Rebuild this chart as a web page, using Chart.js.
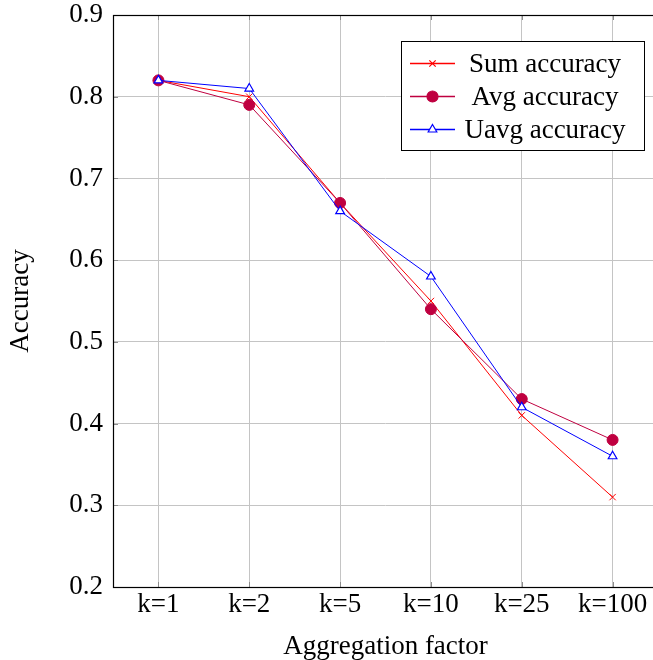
<!DOCTYPE html>
<html>
<head>
<meta charset="utf-8">
<script src="https://cdn.jsdelivr.net/npm/chart.js@4/dist/chart.umd.min.js"></script>
<style>
html,body{margin:0;padding:0;background:#fff;overflow:hidden;width:653px;height:660px;}
#wrap{width:653px;height:660px;overflow:hidden;position:relative;}
canvas{display:block;}
</style>
</head>
<body>
<div id="wrap"><canvas id="c" width="700" height="660"></canvas></div>
<script>
const categories = ['k=1','k=2','k=5','k=10','k=25','k=100'];
const sumAcc  = [0.82, 0.80, 0.67, 0.55, 0.41, 0.31];
const avgAcc  = [0.82, 0.79, 0.67, 0.54, 0.43, 0.38];
const uavgAcc = [0.82, 0.81, 0.66, 0.58, 0.42, 0.36];
const yTicks  = [0.2, 0.3, 0.4, 0.5, 0.6, 0.7, 0.8, 0.9];
const seriesLabels = ['Sum accuracy', 'Avg accuracy', 'Uavg accuracy'];
const xTitle = 'Aggregation factor';
const yTitle = 'Accuracy';

const RED = '#ff0000', PURPLE = '#bf0040', BLUE = '#0000ff';
const LEG_COLORS = [RED, PURPLE, BLUE];
const LEG_FILLS = [RED, PURPLE, '#ffffff'];
const FONT = "'Liberation Serif', 'Times New Roman', serif";
const FS = 27;
const GRID = '#c4c4c4';

const framePlugin = {
  id: 'frame',
  afterDraw(chart) {
    const ctx = chart.ctx, a = chart.chartArea;
    const xs = chart.scales.x, ys = chart.scales.y;
    ctx.save();
    ctx.strokeStyle = '#8c8c8c';
    ctx.lineWidth = 1;
    ctx.beginPath();
    xs.ticks.forEach((t, i) => {
      const px = Math.round(xs.getPixelForTick(i)) + 0.5;
      ctx.moveTo(px, a.bottom); ctx.lineTo(px, a.bottom - 5);
      ctx.moveTo(px, a.top); ctx.lineTo(px, a.top + 5);
    });
    ys.ticks.forEach((t, i) => {
      const py = Math.round(ys.getPixelForTick(i)) + 0.5;
      ctx.moveTo(a.left, py); ctx.lineTo(a.left + 5, py);
      ctx.moveTo(a.right, py); ctx.lineTo(a.right - 5, py);
    });
    ctx.stroke();
    ctx.strokeStyle = '#000';
    ctx.lineWidth = 1.2;
    ctx.strokeRect(Math.round(a.left) + 0.5, Math.round(a.top) + 0.5, a.right - a.left, a.bottom - a.top);
    // legend
    const bx = 401, by = 41, bw = 243, bh = 109;
    ctx.fillStyle = '#fff';
    ctx.fillRect(bx, by, bw, bh);
    ctx.strokeStyle = '#000';
    ctx.lineWidth = 1;
    ctx.strokeRect(bx + 0.5, by + 0.5, bw, bh);
    const rows = [63, 96, 129];
    chart.data.datasets.forEach((ds, i) => {
      const y = rows[i] + 0.5;
      const col = LEG_COLORS[i];
      ctx.setLineDash([]);
      ctx.strokeStyle = col;
      ctx.lineWidth = 1.3;
      ctx.beginPath();
      ctx.moveTo(410, y); ctx.lineTo(455, y);
      ctx.stroke();
      ctx.fillStyle = LEG_FILLS[i];
      ctx.strokeStyle = col;
      ctx.lineWidth = 1.2;
      Chart.helpers.drawPoint(ctx, {
        pointStyle: ds.pointStyle,
        radius: ds.pointRadius,
        rotation: 0,
        borderWidth: 1.2
      }, 432.5, y);
      ctx.fillStyle = '#000';
      ctx.font = FS + 'px ' + FONT;
      ctx.textAlign = 'center';
      ctx.textBaseline = 'middle';
      ctx.fillText(ds.label, 545, y + 1);
    });
    ctx.restore();
  }
};

new Chart(document.getElementById('c'), {
  type: 'line',
  data: {
    labels: categories,
    datasets: [
      {
        label: seriesLabels[0], data: sumAcc, order: 2,
        borderColor: RED, backgroundColor: RED, borderWidth: 1,
        pointStyle: 'crossRot', pointRadius: 4.5, pointBorderWidth: 1,
        pointBackgroundColor: RED, pointBorderColor: RED,
        tension: 0, fill: false
      },
      {
        label: seriesLabels[1], data: avgAcc, order: 1,
        borderColor: PURPLE, backgroundColor: PURPLE, borderWidth: 1,
        pointStyle: 'circle', pointRadius: 5.5, pointBorderWidth: 1,
        pointBackgroundColor: PURPLE, pointBorderColor: PURPLE,
        tension: 0, fill: false
      },
      {
        label: seriesLabels[2], data: uavgAcc, order: 0,
        borderColor: BLUE, backgroundColor: BLUE, borderWidth: 1,
        pointStyle: 'triangle', pointRadius: 5, pointBorderWidth: 1.2,
        pointBackgroundColor: '#ffffff', pointBorderColor: BLUE,
        tension: 0, fill: false
      }
    ]
  },
  options: {
    responsive: false,
    animation: false,
    devicePixelRatio: 1,
    layout: { padding: { left: 0, top: 15, right: 42, bottom: 0 } },
    plugins: { legend: { display: false }, tooltip: { enabled: false } },
    scales: {
      x: {
        type: 'category',
        offset: true,
        grid: { color: GRID, lineWidth: 1, drawTicks: false, offset: false },
        border: { display: false },
        ticks: { color: '#000', font: { family: FONT, size: FS }, padding: 2, maxRotation: 0, autoSkip: false },
        title: { display: true, text: xTitle, color: '#000', font: { family: FONT, size: FS }, padding: { top: 0, bottom: -3 } },
        afterFit(s) { s.height = 73; s.paddingLeft = 0; s.paddingRight = 0; }
      },
      y: {
        min: 0.2, max: 0.9,
        grid: { color: GRID, lineWidth: 1, drawTicks: false },
        border: { display: false },
        afterBuildTicks(s) { s.ticks = yTicks.map(v => ({ value: v })); },
        ticks: { color: '#000', font: { family: FONT, size: FS }, padding: 10, callback: v => Number(v).toFixed(1) },
        title: { display: true, text: yTitle, color: '#000', font: { family: FONT, size: FS }, padding: { top: 5, bottom: 0 } },
        afterFit(s) { s.width = 113; s.paddingTop = 0; s.paddingBottom = 0; }
      }
    }
  },
  plugins: [framePlugin]
});
</script>
</body>
</html>
